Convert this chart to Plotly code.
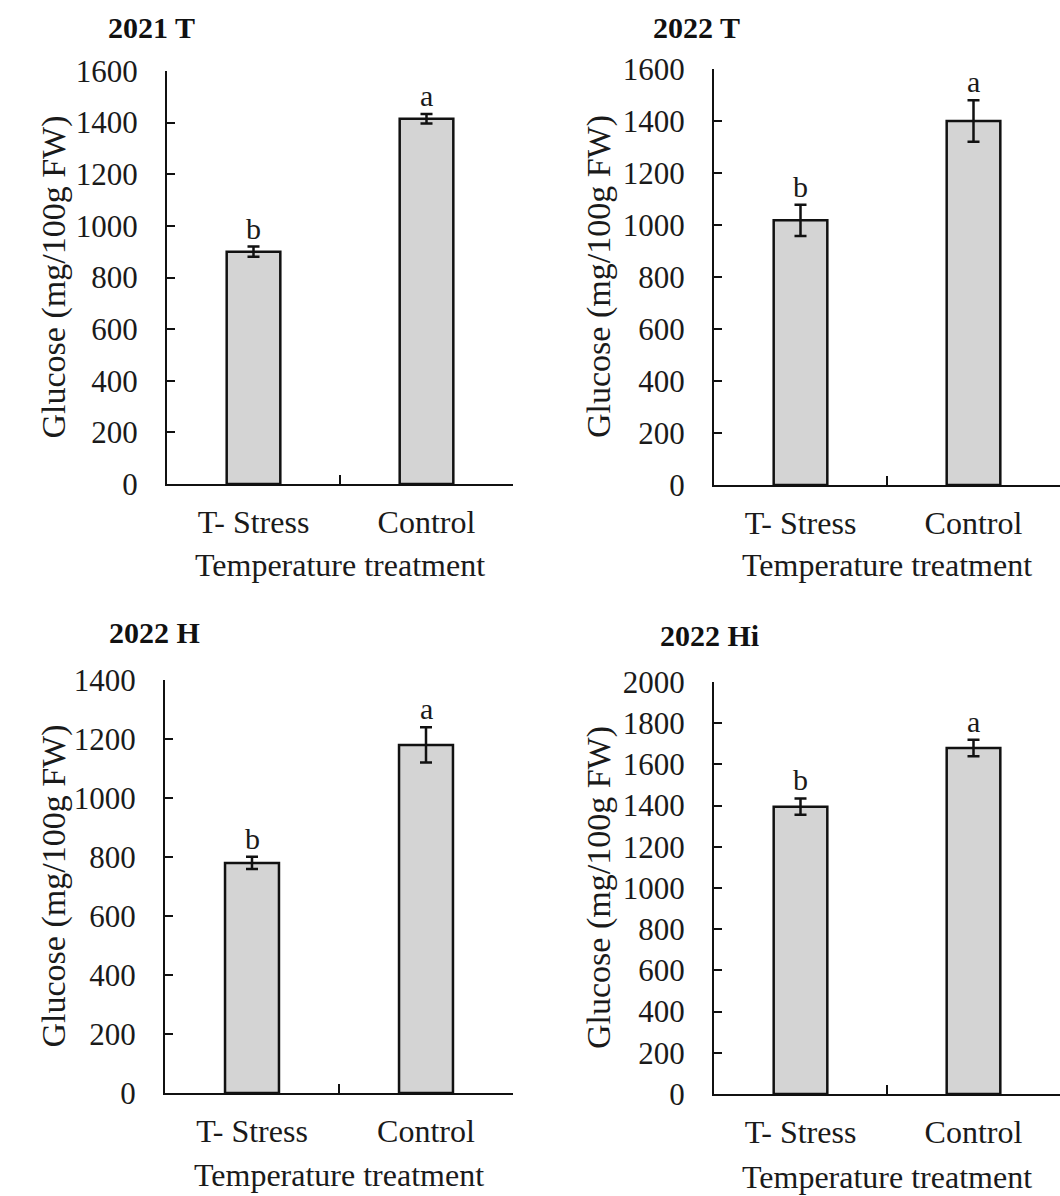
import plotly.graph_objects as go

# ---------------- data ----------------
categories = ["T- Stress", "Control"]
panel_titles = ["2021 T", "2022 T", "2022 H", "2022 Hi"]

glucose_2021_T = [900, 1415]
err_2021_T = [20, 18]
glucose_2022_T = [1018, 1400]
err_2022_T = [60, 80]
glucose_2022_H = [780, 1180]
err_2022_H = [21, 60]
glucose_2022_Hi = [1395, 1680]
err_2022_Hi = [40, 40]

letters = ["b", "a"]
y_max = [1600, 1600, 1400, 2000]
y_dtick = 200

y_title = "Glucose (mg/100g FW)"
x_title = "Temperature treatment"

means = [glucose_2021_T, glucose_2022_T, glucose_2022_H, glucose_2022_Hi]
errs = [err_2021_T, err_2022_T, err_2022_H, err_2022_Hi]

# ---------------- layout geometry (pixels) ----------------
W, H = 1060, 1196
# (left, right, top, bottom) of each plot area in pixels
boxes = [
    (167, 513, 71, 484),
    (714, 1060, 69, 485),
    (165, 513, 680, 1093),
    (714, 1060, 682, 1094),
]
ytitle_x = [53, 599, 53, 599]
xtitle_y = [565, 565, 1175, 1177]
ptitle_pos = [(151, 27), (696, 28), (154, 632), (709, 635)]

FONT = "Liberation Serif, Times New Roman, serif"
TXT = "#1a1a1a"

fig = go.Figure()
layout_axes = {}
annotations = []

for i in range(4):
    n = "" if i == 0 else str(i + 1)
    xa, ya = "x" + n, "y" + n
    l, r, t, b = boxes[i]
    fig.add_trace(go.Bar(
        x=categories, y=means[i],
        xaxis=xa, yaxis=ya,
        width=0.31,
        marker=dict(color="#d4d4d4", line=dict(color="#111111", width=2.5)),
        error_y=dict(type="data", array=errs[i], visible=True,
                     color="#111111", thickness=2.5, width=6),
        showlegend=False, hoverinfo="skip",
    ))
    layout_axes["xaxis" + n] = dict(
        domain=[l / W, r / W], anchor=ya,
        type="category", range=[-0.5, 1.5],
        showline=True, linecolor="#111111", linewidth=2.2,
        ticks="inside", ticklen=9, tickwidth=2, tickcolor="#111111",
        tickson="boundaries", automargin=False,
        showgrid=False, zeroline=False,
        tickfont=dict(family=FONT, size=32, color=TXT),
        ticklabelstandoff=8,
    )
    layout_axes["yaxis" + n] = dict(
        domain=[1 - b / H, 1 - t / H], anchor=xa,
        range=[0, y_max[i]], dtick=y_dtick, tick0=0,
        showline=True, linecolor="#111111", linewidth=2.2,
        ticks="inside", ticklen=8, tickwidth=2, tickcolor="#111111",
        showgrid=False, zeroline=False, automargin=False,
        tickfont=dict(family=FONT, size=31, color=TXT),
        ticklabelstandoff=21,
    )
    # significance letters
    for j, cat in enumerate(categories):
        annotations.append(dict(
            x=cat, y=means[i][j] + errs[i][j], xref=xa, yref=ya,
            text=letters[j], showarrow=False, yanchor="bottom",
            yshift=0, font=dict(family=FONT, size=30, color=TXT),
        ))
    # y title
    annotations.append(dict(
        x=ytitle_x[i] / W, y=1 - ((t + b) / 2) / H, xref="paper", yref="paper",
        text=y_title, textangle=-90, showarrow=False,
        xanchor="center", yanchor="middle",
        font=dict(family=FONT, size=34, color=TXT),
    ))
    # x title
    annotations.append(dict(
        x=((l + r) / 2) / W, y=1 - xtitle_y[i] / H, xref="paper", yref="paper",
        text=x_title, showarrow=False, xanchor="center", yanchor="middle",
        font=dict(family=FONT, size=32, color=TXT),
    ))
    # panel title
    px, py = ptitle_pos[i]
    annotations.append(dict(
        x=px / W, y=1 - py / H, xref="paper", yref="paper",
        text="<b>" + panel_titles[i] + "</b>", showarrow=False,
        xanchor="center", yanchor="middle",
        font=dict(family=FONT, size=30, color="#111111"),
    ))

fig.update_layout(
    width=W, height=H,
    margin=dict(l=0, r=0, t=0, b=0, autoexpand=False),
    paper_bgcolor="white", plot_bgcolor="white",
    annotations=annotations,
    **layout_axes,
)

fig.write_html(
    "out.html",
    config={"displayModeBar": False},
    post_script="document.body.style.margin='0';document.body.style.overflow='hidden';",
)
